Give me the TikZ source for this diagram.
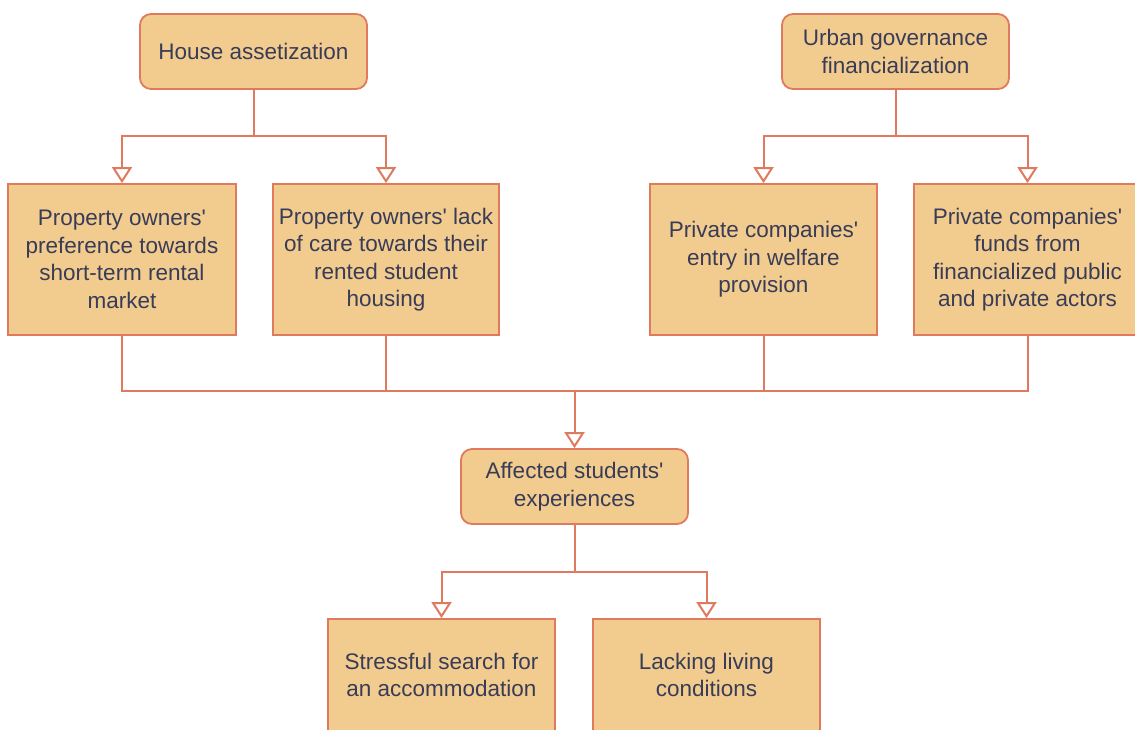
\documentclass[tikz,border=0pt]{standalone}
\usepackage{fontspec}
\setmainfont{Liberation Sans}
\usetikzlibrary{arrows.meta}
\definecolor{boxfill}{HTML}{F2CC8F}
\definecolor{boxline}{HTML}{E07A5F}
\definecolor{boxtext}{HTML}{393C56}
\newcommand{\apos}{\textquotesingle}
\begin{document}
\begin{tikzpicture}[x=1pt,y=-1pt,
  base/.style={draw=boxline, fill=boxfill, line width=1.8pt, text=boxtext,
    font=\fontsize{22.5}{27.5}\selectfont, align=center, inner sep=0pt},
  rbox/.style={base, rounded corners=11pt, minimum width=227pt, minimum height=75pt},
  sbox/.style={base, minimum width=227pt, minimum height=151pt},
  lbl/.style={text=boxtext, font=\fontsize{22.5}{27.5}\selectfont, align=center},
  conn/.style={draw=boxline, line width=2pt},
  arr/.style={conn, -{Triangle[open, length=16pt, width=20pt, fill=white]}}]
\useasboundingbox (0,0) rectangle (1135,729);
\clip (0,0) rectangle (1135,729);
\fill[white] (0,0) rectangle (1135,729);

\node[rbox] (HA) at (253.5,51.5) {House assetization};
\node[rbox] (UG) at (895.5,51.5) {Urban governance\\financialization};

\node[sbox, minimum width=228pt] (P1) at (122,259.5) {Property owners\apos\\preference towards\\short-term rental\\market};
\node[sbox, minimum width=226pt] (P2) at (386,259.5) {Property owners\apos{} lack\\of care towards their\\rented student\\housing};
\node[sbox] (P3) at (763.5,259.5) {Private companies\apos\\entry in welfare\\provision};
\node[sbox] (P4) at (1027.5,259.5) {Private companies\apos\\funds from\\financialized public\\and private actors};

\node[rbox] (AS) at (574.5,486.5) {Affected students\apos\\experiences};

\node[sbox] (S1) at (441.5,694.5) {};
\node[sbox] (S2) at (706.5,694.5) {};
\node[lbl] (S1t) at (441.5,675) {Stressful search for\\an accommodation};
\node[lbl] (S2t) at (706.5,675) {Lacking living\\conditions};

\coordinate (b1) at (253.5,136);
\coordinate (b2) at (895.5,136);
\coordinate (bus) at (574.5,391);
\coordinate (b3) at (574.5,572);

\draw[conn] (HA.south) -- (b1);
\draw[arr] (b1) -| (P1.north);
\draw[arr] (b1) -| (P2.north);
\draw[conn] (UG.south) -- (b2);
\draw[arr] (b2) -| (P3.north);
\draw[arr] (b2) -| (P4.north);

\draw[conn] (P1.south) |- (bus);
\draw[conn] (P2.south) |- (bus);
\draw[conn] (P3.south) |- (bus);
\draw[conn] (P4.south) |- (bus);
\draw[arr] (bus) -- (AS.north);

\draw[conn] (AS.south) -- (b3);
\draw[arr] (b3) -| (S1.north);
\draw[arr] (b3) -| (S2.north);
\end{tikzpicture}
\end{document}
